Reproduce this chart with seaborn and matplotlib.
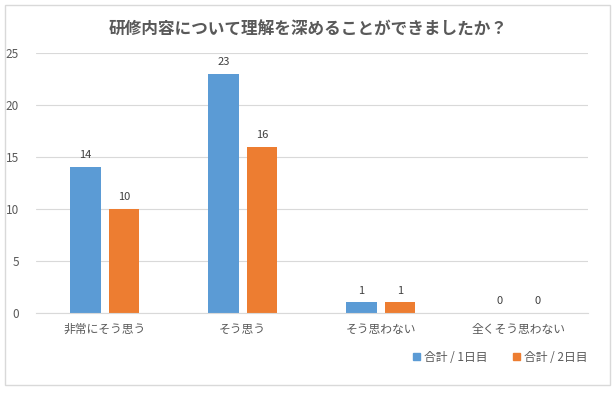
import pandas as pd
import seaborn as sns
import matplotlib.pyplot as plt
from matplotlib.patches import Rectangle

categories = ['非常にそう思う', 'そう思う', 'そう思わない', '全くそう思わない']
series_names = ['合計 / 1日目', '合計 / 2日目']
day1 = [14, 23, 1, 0]
day2 = [10, 16, 1, 0]
colors = ['#5B9BD5', '#ED7D31']
title = '研修内容について理解を深めることができましたか？'

df = pd.DataFrame({
    'cat': categories * 2,
    'series': [series_names[0]] * 4 + [series_names[1]] * 4,
    'value': day1 + day2,
})

sns.set_style('white')
plt.rcParams['font.family'] = ['Noto Sans CJK JP', 'DejaVu Sans']

fig = plt.figure(figsize=(6.16, 3.96), dpi=100)
ax = fig.add_axes([0.058, 0.21, 0.896, 0.656])

sns.barplot(data=df, x='cat', y='value', hue='series', order=categories,
            hue_order=series_names, palette=colors, width=0.56, gap=0.2,
            ax=ax, legend=False, saturation=1, linewidth=0)

for c in ax.containers:
    ax.bar_label(c, fmt='%d', padding=5, fontsize=8, color='#404040')

ax.set_ylim(0, 25)
ax.set_yticks(range(0, 26, 5))
ax.set_xlim(-0.5, 3.5)
ax.yaxis.grid(True, color='#D9D9D9', linewidth=0.8)
ax.set_axisbelow(True)
for s in ['top', 'right', 'left']:
    ax.spines[s].set_visible(False)
ax.spines['bottom'].set_color('#D9D9D9')
ax.tick_params(axis='both', length=0, labelsize=8.5, colors='#595959')
ax.tick_params(axis='x', pad=7)
ax.tick_params(axis='y', pad=12)
ax.set_xlabel('')
ax.set_ylabel('')

fig.text(0.5, 0.925, title, ha='center', va='center', fontsize=12,
         color='#595959', fontweight='bold')

handles = [Rectangle((0, 0), 1, 1, color=c) for c in colors]
fig.legend(handles, series_names, loc='center', bbox_to_anchor=(0.812, 0.098),
           ncol=2, frameon=False, fontsize=8.5, labelcolor='#595959',
           handlelength=0.6, handleheight=0.6, handletextpad=0.3,
           columnspacing=2.2)

fig.add_artist(Rectangle((0.008, 0.027), 0.982, 0.96, transform=fig.transFigure,
                         fill=False, edgecolor='#D9D9D9', linewidth=1))

fig.savefig('out.png', dpi=100)
